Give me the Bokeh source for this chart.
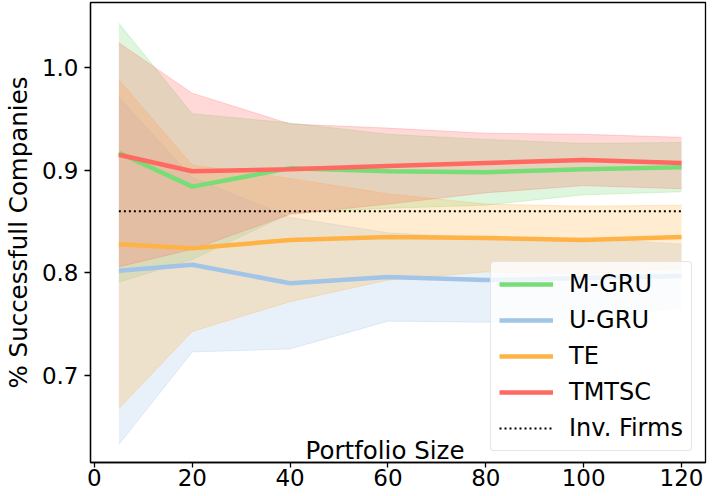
import numpy as np
from bokeh.plotting import figure
from bokeh.models import Range1d, FixedTicker, NumeralTickFormatter, Label
from bokeh.embed import file_html
from bokeh.resources import INLINE

# ---- data ----
portfolio_size = [5, 20, 40, 60, 80, 100, 120]

mgru_mean = [0.917, 0.884, 0.902, 0.899, 0.898, 0.901, 0.903]
mgru_std = [0.126, 0.071, 0.044, 0.036, 0.032, 0.025, 0.024]

ugru_mean = [0.802, 0.808, 0.790, 0.796, 0.793, 0.795, 0.797]
ugru_std = [0.169, 0.085, 0.064, 0.043, 0.041, 0.039, 0.031]

te_mean = [0.828, 0.824, 0.832, 0.835, 0.834, 0.832, 0.835]
te_std = [0.160, 0.081, 0.060, 0.042, 0.033, 0.033, 0.031]

tmtsc_mean = [0.915, 0.899, 0.901, 0.904, 0.907, 0.910, 0.907]
tmtsc_std = [0.109, 0.076, 0.044, 0.037, 0.029, 0.025, 0.025]

inv_firms_level = 0.86

series_names = ["M-GRU", "U-GRU", "TE", "TMTSC"]
x_ticks = [0, 20, 40, 60, 80, 100, 120]
y_ticks = [0.7, 0.8, 0.9, 1.0]

colors = ["#77dd77", "#a2c4e6", "#ffb347", "#ff6961"]
FONT = "DejaVu Sans"
FS = "23px"
FS_LABEL = "24.5px"
FS_LEGEND = "24px"

Y0, Y1 = 0.6154, 1.0633

p = figure(width=708, height=496, output_backend="svg", toolbar_location=None,
           x_range=Range1d(-0.8, 124.9), y_range=Range1d(Y0, Y1),
           min_border_left=89, min_border_right=3, min_border_top=2,
           min_border_bottom=34)

means = [mgru_mean, ugru_mean, te_mean, tmtsc_mean]
stds = [mgru_std, ugru_std, te_std, tmtsc_std]
xs = np.array(portfolio_size, dtype=float)

# bands first (under all lines)
for m, s, c in zip(means, stds, colors):
    m = np.array(m)
    s = np.array(s)
    p.varea(x=xs, y1=m - s, y2=m + s, fill_color=c, fill_alpha=0.25)
    p.line(xs, m + s, line_color=c, line_alpha=0.25, line_width=1)
    p.line(xs, m - s, line_color=c, line_alpha=0.25, line_width=1)

for name, m, c in zip(series_names, means, colors):
    p.line(xs, m, line_color=c, line_width=4.5, legend_label=name)

p.line(xs, [inv_firms_level] * len(xs), line_color="black", line_width=2,
       line_dash="2 3", legend_label="Inv. Firms")

p.xgrid.visible = False
p.ygrid.visible = False
p.outline_line_color = "black"
p.outline_line_width = 1.3
p.background_fill_color = "white"

for ax in (p.xaxis, p.yaxis):
    ax.axis_line_color = "black"
    ax.axis_line_width = 1.3
    ax.major_tick_line_color = "black"
    ax.major_tick_line_width = 1.3
    ax.major_tick_in = 0
    ax.minor_tick_line_color = None
    ax.major_label_text_font = FONT
    ax.major_label_text_font_size = FS
    ax.major_label_text_color = "black"

p.xaxis.major_tick_out = 5
p.yaxis.major_tick_out = 6
p.xaxis.ticker = FixedTicker(ticks=x_ticks)
p.yaxis.ticker = FixedTicker(ticks=y_ticks)
p.yaxis.formatter = NumeralTickFormatter(format="0.0")
p.xaxis.major_label_standoff = 1
p.yaxis.major_label_standoff = 6

p.yaxis.axis_label = "% Successfull Companies"
p.yaxis.axis_label_text_font = FONT
p.yaxis.axis_label_text_font_size = FS_LABEL
p.yaxis.axis_label_text_font_style = "normal"
p.yaxis.axis_label_text_color = "black"
p.yaxis.axis_label_standoff = 6

p.add_layout(Label(x=59.4, y=Y0 + 0.0117, text="Portfolio Size",
                   text_align="center", text_baseline="alphabetic",
                   text_font=FONT, text_font_size=FS_LABEL, text_color="black"))

lg = p.legend[0]
lg.location = (400, 11)
lg.margin = 0
lg.padding = 8
lg.spacing = 8
lg.glyph_width = 54
lg.glyph_height = 28
lg.label_height = 28
lg.label_standoff = 16
lg.label_text_font = FONT
lg.label_text_font_size = FS_LEGEND
lg.label_text_color = "black"
lg.border_line_color = "#cccccc"
lg.border_line_width = 1
lg.background_fill_color = "white"
lg.background_fill_alpha = 0.8
if "border_radius" in lg.properties():
    lg.border_radius = 4

open("out.html", "w").write(file_html(p, INLINE))
